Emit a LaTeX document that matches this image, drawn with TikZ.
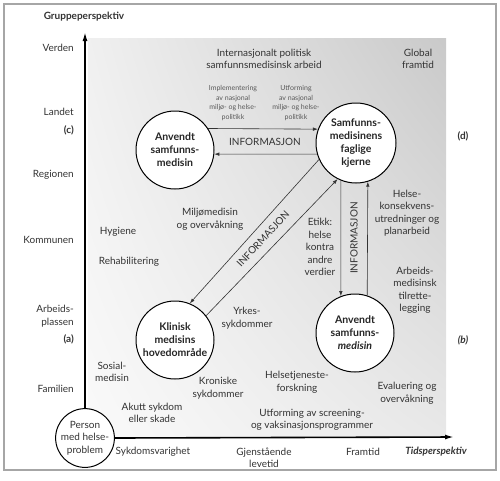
\documentclass[tikz,border=0pt]{standalone}
\usepackage{fontspec}
\setmainfont{Lato}
\usepackage{tikz}
\usetikzlibrary{arrows.meta,positioning,calc,shadings}

\begin{document}
\begin{tikzpicture}[x=1pt,y=-1pt,
    lbl/.style={font=\fontsize{10}{12.5}\selectfont,align=center,text=black!80,inner sep=0pt},
    boldlbl/.style={lbl,font=\fontsize{10}{12.5}\selectfont\bfseries},
    note/.style={lbl,font=\fontsize{7}{9.5}\selectfont,text=black!65},
    side/.style={lbl,anchor=east,align=right},
    field/.style={circle,draw,fill=white,line width=1pt,minimum size=78pt,inner sep=0pt,
        align=center,text=black!85,font=\fontsize{10.5}{13}\selectfont\bfseries},
    flow/.style={-{Latex[length=5pt,width=3.5pt]},line width=0.6pt,black!80},
    axis/.style={-{Latex[length=9pt,width=5pt]},line width=1.6pt}]
\useasboundingbox (0,0) rectangle (500,480);
\shade[upper left=gray!12,upper right=gray!42,lower left=gray!4,lower right=gray!18]
    (88,38) rectangle (446,437);
\draw[gray!70,line width=1.2pt] (4,4) rectangle (496,470);

\node[circle,draw,line width=1pt,fill=white,minimum size=54pt,lbl] (person) at (85,438)
    {Person\\med helse-\\problem};
\coordinate (ytop) at (85,32);
\coordinate (xend) at (454,437);
\draw[axis] (person.north) -- (ytop);
\draw[axis] (person.east) -- (xend);

\node[boldlbl] (gruppe) at (84,17) {Gruppeperspektiv};
\node[side] (verden) at (74,48) {Verden};
\node[side] (landet) at (74,112) {Landet};
\node[side,font=\fontsize{10}{12.5}\selectfont\bfseries] (labc) at (74,130) {(c)};
\node[side] (regionen) at (74,175) {Regionen};
\node[side] (kommunen) at (74,240) {Kommunen};
\node[side] (arbeid) at (74,316) {Arbeids-\\plassen};
\node[side,font=\fontsize{10}{12.5}\selectfont\bfseries] (laba) at (74,339) {(a)};
\node[side] (familien) at (74,389) {Familien};

\node[lbl] (sykvar) at (153,452) {Sykdomsvarighet};
\node[lbl] (gjenst) at (264,458) {Gjenstående\\levetid};
\node[lbl] (framtid) at (363,452) {Framtid};
\node[boldlbl,font=\fontsize{10}{12.5}\selectfont\bfseries\itshape] (tids) at (436,452) {Tidsperspektiv};
\node[boldlbl] (labd) at (463,136) {(d)};
\node[boldlbl,font=\fontsize{10}{12.5}\selectfont\bfseries\itshape] (labb) at (463,340) {(b)};

\node[field] (anvtop) at (175,150) {Anvendt\\samfunns-\\medisin};
\node[field,minimum size=80pt] (kjerne) at (356,143) {Samfunns-\\medisinens\\faglige\\kjerne};
\node[field] (klinisk) at (175,340) {Klinisk\\medisins\\hovedområde};
\node[field] (anvbot) at (355,333) {Anvendt\\samfunns-\\\textit{medisin}};

\draw[flow] (anvtop.33) -- (kjerne.160);
\draw[flow] (kjerne.196) -- (anvtop.-6);
\draw[flow] (kjerne.204) -- (klinisk.68);
\draw[flow] (klinisk.38) -- (kjerne.243);
\draw[flow] (kjerne.248) -- (anvbot.111);
\draw[flow] (anvbot.72) -- (kjerne.287);
\node[lbl] (info1) at (265,142) {INFORMASJON};
\node[lbl,rotate=47] (info2) at (263,239) {INFORMASJON};
\node[lbl,rotate=90] (info3) at (354,238) {INFORMASJON};

\node[lbl] (internasj) at (264,59) {Internasjonalt politisk\\samfunnsmedisinsk arbeid};
\node[lbl] (global) at (418,59) {Global\\framtid};
\node[note] (implem) at (233,103) {Implementering\\av nasjonal\\miljø- og helse-\\politikk};
\node[note] (utform) at (296,103) {Utforming\\av nasjonal\\miljø- og helse-\\politikk};
\node[lbl] (miljo) at (210,219) {Miljømedisin\\og overvåkning};
\node[lbl] (hygiene) at (118,232) {Hygiene};
\node[lbl] (rehab) at (129,262) {Rehabilitering};
\node[lbl] (sosial) at (112,372) {Sosial-\\medisin};
\node[lbl] (akutt) at (152,413) {Akutt sykdom\\eller skade};
\node[lbl] (kronisk) at (218,388) {Kroniske\\sykdommer};
\node[lbl] (yrkes) at (247,318) {Yrkes-\\sykdommer};
\node[lbl] (etikk) at (320,247) {Etikk:\\helse\\kontra\\andre\\verdier};
\node[lbl] (konsekv) at (407,213) {Helse-\\konsekvens-\\utredninger og\\planarbeid};
\node[lbl] (arbmed) at (415,290) {Arbeids-\\medisinsk\\tilrette-\\legging};
\node[lbl] (helsetj) at (297,382) {Helsetjeneste-\\forskning};
\node[lbl] (evaluer) at (407,393) {Evaluering og\\overvåkning};
\node[lbl] (screening) at (312,420) {Utforming av screening-\\og vaksinasjonsprogrammer};
\end{tikzpicture}
\end{document}
